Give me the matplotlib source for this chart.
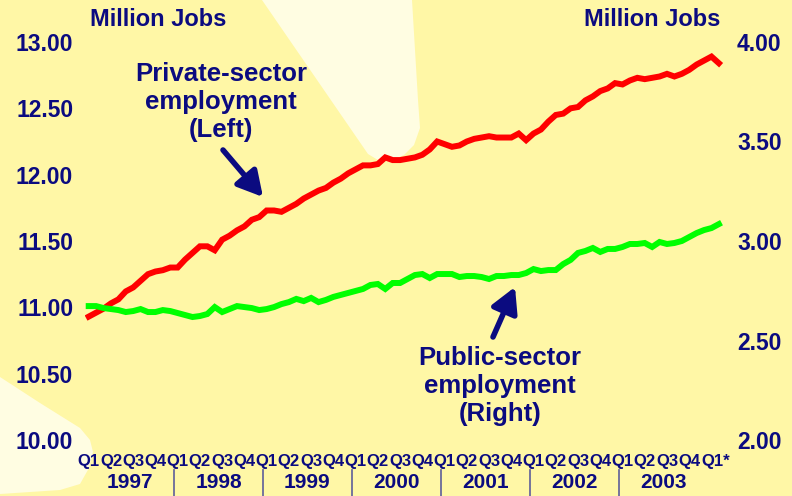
import numpy as np
import matplotlib
matplotlib.use("Agg")
import matplotlib.pyplot as plt
from matplotlib.patches import Polygon

# ---------------- data (monthly, Jan 1997 - Feb 2004) ----------------
private_sector = [
    10.93, 10.96, 10.99, 11.03, 11.06, 11.12, 11.15, 11.20, 11.25, 11.27, 11.28, 11.30,
    11.30, 11.36, 11.41, 11.46, 11.46, 11.43, 11.51, 11.54, 11.58, 11.61, 11.66, 11.68,
    11.73, 11.73, 11.72, 11.75, 11.78, 11.82, 11.85, 11.88, 11.90, 11.94, 11.97, 12.01,
    12.04, 12.07, 12.07, 12.08, 12.13, 12.11, 12.11, 12.12, 12.13, 12.15, 12.19, 12.25,
    12.23, 12.21, 12.22, 12.25, 12.27, 12.28, 12.29, 12.28, 12.28, 12.28, 12.31, 12.26,
    12.31, 12.34, 12.40, 12.45, 12.46, 12.50, 12.51, 12.56, 12.59, 12.63, 12.65, 12.69,
    12.68, 12.71, 12.73, 12.72, 12.73, 12.74, 12.76, 12.74, 12.76, 12.79, 12.83, 12.86,
    12.89, 12.84,
]
public_sector = [
    2.673, 2.673, 2.663, 2.658, 2.653, 2.643, 2.648, 2.658, 2.643, 2.643, 2.653, 2.648,
    2.638, 2.628, 2.618, 2.623, 2.633, 2.668, 2.643, 2.658, 2.673, 2.668, 2.663, 2.653,
    2.658, 2.668, 2.683, 2.693, 2.709, 2.698, 2.714, 2.693, 2.704, 2.719, 2.729, 2.739,
    2.749, 2.759, 2.779, 2.784, 2.759, 2.789, 2.789, 2.809, 2.829, 2.834, 2.814, 2.834,
    2.834, 2.834, 2.819, 2.824, 2.824, 2.819, 2.809, 2.824, 2.824, 2.829, 2.829, 2.839,
    2.859, 2.849, 2.854, 2.854, 2.884, 2.905, 2.940, 2.950, 2.965, 2.945, 2.960, 2.960,
    2.970, 2.985, 2.985, 2.990, 2.970, 2.995, 2.985, 2.990, 3.000, 3.020, 3.040, 3.055,
    3.065, 3.085,
]
left_ticks = [10.0, 10.5, 11.0, 11.5, 12.0, 12.5, 13.0]
right_ticks = [2.0, 2.5, 3.0, 3.5, 4.0]
quarter_labels = ["Q1", "Q2", "Q3", "Q4"] * 7 + ["Q1*"]
year_labels = ["1997", "1998", "1999", "2000", "2001", "2002", "2003"]

# ---------------- style ----------------
BG = "#FFF7A6"
LIGHT = "#FFFDE2"
NAVY = "#0B0B80"
DIV = "#6A6A9A"
plt.rcParams["font.family"] = ["Liberation Sans", "DejaVu Sans"]
plt.rcParams["font.weight"] = "bold"

W, H = 792, 496
fig = plt.figure(figsize=(W / 100, H / 100), dpi=100, facecolor=BG)


def fp(pts):
    return [(x / W, 1 - y / H) for x, y in pts]


# light beams in the background
beam_top = [(262, 0), (412, 0), (418, 100), (420, 128), (414, 145), (404, 155),
            (392, 160), (378, 160), (368, 154)]
beam_bl = [(0, 377), (40, 403), (80, 428), (90, 440), (93, 452), (89, 468),
           (80, 484), (60, 490), (0, 494)]
for pts in (beam_top, beam_bl):
    fig.add_artist(Polygon(fp(pts), closed=True, transform=fig.transFigure,
                           facecolor=LIGHT, edgecolor="none", zorder=-5))

ax = fig.add_axes([85 / W, (H - 440) / H, 645 / W, 398 / H])
ax.set_facecolor("none")
ax2 = ax.twinx()
ax2.set_facecolor("none")

months = np.arange(len(private_sector))
ax.plot(months, private_sector, color="#FF0000", lw=4.3, solid_joinstyle="miter", zorder=3)
ax2.plot(months, public_sector, color="#00FF00", lw=4.3, solid_joinstyle="miter", zorder=3)

ax.set_xlim(-0.5, 86.5)
ax.set_ylim(10, 13)
ax2.set_ylim(2, 4)
ax.set_yticks(left_ticks)
ax.set_yticklabels([f"{v:.2f}" for v in left_ticks])
ax2.set_yticks(right_ticks)
ax2.set_yticklabels([f"{v:.2f}" for v in right_ticks])
ax.tick_params(axis="y", length=0, pad=8.5, labelsize=16.5, labelcolor=NAVY)
ax2.tick_params(axis="y", length=0, pad=5, labelsize=16.5, labelcolor=NAVY)
ax.set_xticks([])
for a in (ax, ax2):
    for s in a.spines.values():
        s.set_visible(False)
for lab in ax.get_yticklabels() + ax2.get_yticklabels():
    lab.set_fontweight("bold")

# quarter labels
qtrans = ax.get_xaxis_transform()
for k, q in enumerate(quarter_labels):
    xm = 3 * k
    if q.endswith("*"):
        ax.text(xm - 1.42, -0.053, q, transform=qtrans, ha="left", va="center",
                fontsize=12, color=NAVY, fontweight="bold", clip_on=False)
    else:
        ax.text(xm, -0.053, q, transform=qtrans, ha="center", va="center",
                fontsize=12, color=NAVY, fontweight="bold", clip_on=False)

# year labels and dividers
for k, y in enumerate(year_labels):
    ax.text(5.5 + 12 * k, -0.106, y, transform=qtrans, ha="center", va="center",
            fontsize=15, color=NAVY, fontweight="bold", clip_on=False)
for k in range(len(year_labels) - 1):
    ax.plot([11.5 + 12 * k] * 2, [-0.075, -0.15], transform=qtrans, color=DIV,
            lw=1.3, clip_on=False)

# axis unit titles
fig.text(90 / W, 1 - 20 / H, "Million Jobs", ha="left", va="center", fontsize=17,
         color=NAVY, fontweight="bold")
fig.text(720 / W, 1 - 20 / H, "Million Jobs", ha="right", va="center", fontsize=17,
         color=NAVY, fontweight="bold")

# annotations
fig.text(221 / W, 1 - 102 / H, "Private-sector\nemployment\n(Left)", ha="center",
         va="center", fontsize=18.5, color=NAVY, fontweight="bold", linespacing=1.2)
fig.text(500 / W, 1 - 386 / H, "Public-sector\nemployment\n(Right)", ha="center",
         va="center", fontsize=18.5, color=NAVY, fontweight="bold", linespacing=1.2)

aprops = dict(arrowstyle="-|>,head_length=1.0,head_width=0.55", lw=4, color=NAVY,
              mutation_scale=15, shrinkA=0, shrinkB=0)
ax.annotate("", xy=(263, H - 197), xytext=(223, H - 150), xycoords="figure pixels",
            textcoords="figure pixels", arrowprops=aprops)
ax.annotate("", xy=(515, H - 287), xytext=(493, H - 337), xycoords="figure pixels",
            textcoords="figure pixels", arrowprops=aprops)

fig.savefig("out.png", dpi=100, facecolor=BG)
